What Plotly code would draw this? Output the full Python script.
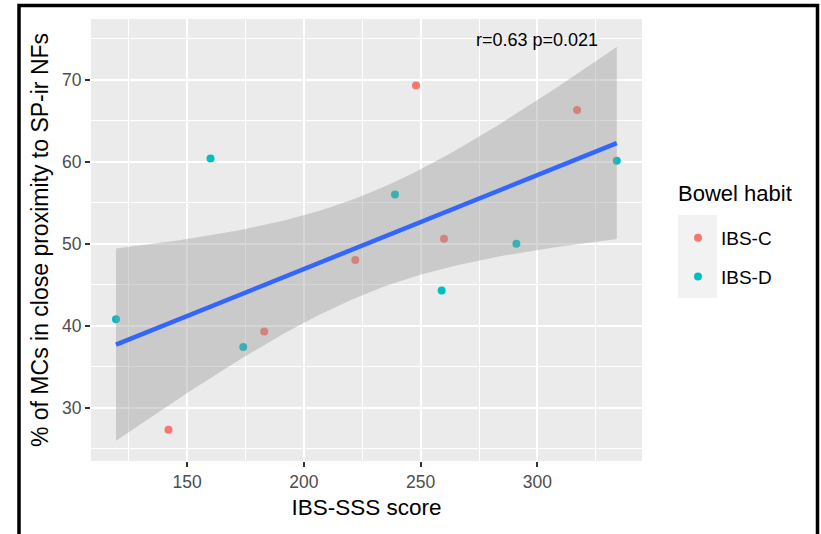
import numpy as np
import plotly.graph_objects as go

# Data
ibs_c_x = [142, 183, 222, 248, 260, 317]
ibs_c_y = [27.3, 39.3, 48.0, 69.3, 50.6, 66.3]
ibs_d_x = [119.5, 160, 174, 239, 259, 291, 334]
ibs_d_y = [40.8, 60.4, 37.4, 56.0, 44.3, 50.0, 60.1]
x_ticks = [150, 200, 250, 300]
y_ticks = [30, 40, 50, 60, 70]
annotation_text = "r=0.63 p=0.021"

C_COL = "#F8766D"
D_COL = "#00BFC4"
FONT = "Liberation Sans, Arial, sans-serif"

# linear model with 95% CI (as geom_smooth(method='lm'))
xa = np.array(ibs_c_x + ibs_d_x, dtype=float)
ya = np.array(ibs_c_y + ibs_d_y, dtype=float)
n = len(xa)
slope, intercept = np.polyfit(xa, ya, 1)
resid = ya - (slope * xa + intercept)
s = np.sqrt(np.sum(resid ** 2) / (n - 2))
xbar = xa.mean()
sxx = np.sum((xa - xbar) ** 2)
t975 = 2.200985  # t quantile, df = 11
xs = np.linspace(xa.min(), xa.max(), 80)
fit = slope * xs + intercept
se = s * np.sqrt(1.0 / n + (xs - xbar) ** 2 / sxx)
upper = fit + t975 * se
lower = fit - t975 * se

fig = go.Figure()
fig.add_trace(go.Scatter(x=ibs_c_x, y=ibs_c_y, mode="markers", name="IBS-C",
                         legendgroup="c", marker=dict(color=C_COL, size=8)))
fig.add_trace(go.Scatter(x=ibs_d_x, y=ibs_d_y, mode="markers", name="IBS-D",
                         legendgroup="d", marker=dict(color=D_COL, size=8)))
fig.add_trace(go.Scatter(x=np.concatenate([xs, xs[::-1]]),
                         y=np.concatenate([upper, lower[::-1]]),
                         fill="toself", fillcolor="rgba(153,153,153,0.4)",
                         line=dict(width=0), mode="lines", showlegend=False,
                         hoverinfo="skip"))
fig.add_trace(go.Scatter(x=xs, y=fit, mode="lines", showlegend=False,
                         line=dict(color="#3366FF", width=4.5)))

W, H = 821, 534
L, R, T, B = 91, 179, 19, 73
pw, ph = W - L - R, H - T - B

def px_x(p):
    return (p - L) / pw

def px_y(p):
    return (H - B - p) / ph

shapes = [
    # legend key background
    dict(type="rect", xref="paper", yref="paper",
         x0=px_x(678), x1=px_x(717), y0=px_y(298), y1=px_y(215),
         fillcolor="#F2F2F2", line=dict(width=0), layer="below"),
    # outer black frame
    dict(type="rect", xref="paper", yref="paper",
         x0=px_x(19), x1=px_x(817.5), y0=px_y(545), y1=px_y(5.5),
         line=dict(color="black", width=3.5), fillcolor="rgba(0,0,0,0)"),
]

fig.update_layout(
    width=W, height=H,
    margin=dict(l=L, r=R, t=T, b=B, pad=0),
    paper_bgcolor="white", plot_bgcolor="#EBEBEB",
    font=dict(family=FONT, color="black"),
    shapes=shapes,
    showlegend=True,
    legend=dict(
        font=dict(size=19, color="black"),
        x=px_x(675), xanchor="left", y=px_y(219), yanchor="top",
        bgcolor="rgba(0,0,0,0)", tracegroupgap=11, itemsizing="trace",
        itemwidth=36,
    ),
    annotations=[
        dict(x=300, y=74.8, xref="x", yref="y", text=annotation_text,
             showarrow=False, font=dict(size=18, color="black")),
        dict(x=px_x(676), y=px_y(193), xref="paper", yref="paper",
             xanchor="left", yanchor="middle", text="Bowel habit",
             showarrow=False, font=dict(size=22, color="black")),
    ],
)

fig.update_xaxes(
    range=[108.8, 344.8], tickvals=x_ticks, ticktext=[str(v) for v in x_ticks],
    showgrid=True, gridcolor="white", gridwidth=1.6,
    minor=dict(showgrid=True, gridcolor="white", gridwidth=0.8, dtick=25, tick0=125),
    ticks="outside", ticklen=5, tickwidth=1.5, tickcolor="#333333",
    tickfont=dict(size=17.5, color="#4D4D4D"), zeroline=False,
    title=dict(text="IBS-SSS score", font=dict(size=22.5, color="black"), standoff=8),
)
fig.update_yaxes(
    range=[23.5, 77.4], tickvals=y_ticks, ticktext=[str(v) for v in y_ticks],
    showgrid=True, gridcolor="white", gridwidth=1.6,
    minor=dict(showgrid=True, gridcolor="white", gridwidth=0.8, dtick=10, tick0=25),
    ticks="outside", ticklen=5, tickwidth=1.5, tickcolor="#333333",
    tickfont=dict(size=17.5, color="#4D4D4D"), zeroline=False,
    title=dict(text="% of MCs in close proximity to SP-ir NFs",
               font=dict(size=23, color="black"), standoff=6),
)

fig.write_html("out.html")
